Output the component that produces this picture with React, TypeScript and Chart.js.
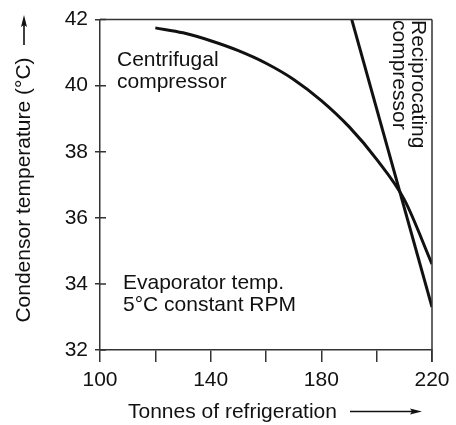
import React, { useEffect, useRef } from "react";
import { Chart, registerables } from "chart.js";

Chart.register(...registerables);

// Data
const centrifugalX = [120, 130, 140, 150, 160, 170, 180, 190, 200, 210, 220];
const centrifugalY = [41.75, 41.6, 41.36, 41.06, 40.68, 40.19, 39.55, 38.76, 37.77, 36.55, 34.6];
const reciprocatingX = [191, 220];
const reciprocatingY = [42, 33.3];

const xTickLabels = [100, 140, 180, 220];
const yTicks = [32, 34, 36, 38, 40, 42];

const xTitle = "Tonnes of refrigeration";
const yTitle = "Condensor temperature (°C)";
const centrifugalLabel = ["Centrifugal", "compressor"];
const reciprocatingLabel = ["Reciprocating", "compressor"];
const noteLabel = ["Evaporator temp.", "5°C constant RPM"];

const FONT = '"Liberation Sans", Arial, Helvetica, sans-serif';
const INK = "#111";
const AXIS = "#333";

const decorPlugin = {
  id: "decor",
  afterDraw(chart: any) {
    const { ctx, chartArea } = chart;
    const ys = chart.scales.y;
    ctx.save();
    // frame top/right
    ctx.strokeStyle = AXIS;
    ctx.lineWidth = 1.5;
    ctx.beginPath();
    ctx.moveTo(chartArea.left, chartArea.top);
    ctx.lineTo(chartArea.right, chartArea.top);
    ctx.moveTo(chartArea.right, chartArea.top);
    ctx.lineTo(chartArea.right, chartArea.bottom + 12);
    ctx.stroke();
    // inward y ticks
    ctx.beginPath();
    yTicks.forEach((v) => {
      const py = ys.getPixelForValue(v);
      ctx.moveTo(chartArea.left, py);
      ctx.lineTo(chartArea.left + 6, py);
    });
    ctx.stroke();

    ctx.fillStyle = INK;
    ctx.font = `21px ${FONT}`;
    ctx.textBaseline = "alphabetic";
    ctx.textAlign = "left";
    // annotations
    ctx.fillText(centrifugalLabel[0], 117, 66);
    ctx.fillText(centrifugalLabel[1], 117, 88);
    ctx.fillText(noteLabel[0], 123, 289);
    ctx.fillText(noteLabel[1], 123, 311);
    // x title
    ctx.fillText(xTitle, 128, 418);
    // y title
    ctx.save();
    ctx.translate(30, 190);
    ctx.rotate(-Math.PI / 2);
    ctx.textAlign = "center";
    ctx.fillText(yTitle, 0, 0);
    ctx.restore();
    // reciprocating label rotated clockwise
    ctx.save();
    ctx.translate(412, 20);
    ctx.rotate(Math.PI / 2);
    ctx.textAlign = "left";
    ctx.fillText(reciprocatingLabel[0], 0, 0);
    ctx.fillText(reciprocatingLabel[1], 0, 19);
    ctx.restore();

    // arrows
    ctx.strokeStyle = INK;
    ctx.lineWidth = 1.6;
    ctx.beginPath();
    ctx.moveTo(24, 45);
    ctx.lineTo(24, 22);
    ctx.moveTo(350, 411.5);
    ctx.lineTo(415, 411.5);
    ctx.stroke();
    ctx.beginPath();
    ctx.moveTo(24, 15);
    ctx.lineTo(21, 27);
    ctx.lineTo(24, 25);
    ctx.lineTo(27, 27);
    ctx.closePath();
    ctx.fill();
    ctx.beginPath();
    ctx.moveTo(422, 411.5);
    ctx.lineTo(410, 408.5);
    ctx.lineTo(412, 411.5);
    ctx.lineTo(410, 414.5);
    ctx.closePath();
    ctx.fill();
    ctx.restore();
  },
};

export default function App() {
  const ref = useRef<HTMLCanvasElement | null>(null);
  useEffect(() => {
    if (!ref.current) return;
    Chart.defaults.font.family = FONT;
    const chart = new Chart(ref.current, {
      type: "line",
      data: {
        datasets: [
          {
            label: "Centrifugal compressor",
            data: centrifugalX.map((x, i) => ({ x, y: centrifugalY[i] })),
            borderColor: INK,
            borderWidth: 3,
            pointRadius: 0,
            cubicInterpolationMode: "monotone",
            fill: false,
          },
          {
            label: "Reciprocating compressor",
            data: reciprocatingX.map((x, i) => ({ x, y: reciprocatingY[i] })),
            borderColor: INK,
            borderWidth: 3,
            pointRadius: 0,
            fill: false,
          },
        ],
      },
      options: {
        responsive: false,
        animation: false,
        layout: { padding: { top: 14, right: 24, left: 0, bottom: 0 } },
        plugins: { legend: { display: false }, tooltip: { enabled: false } },
        scales: {
          x: {
            type: "linear",
            min: 100,
            max: 220,
            afterFit: (s: any) => {
              s.height = 75;
            },
            ticks: {
              stepSize: 20,
              autoSkip: false,
              maxRotation: 0,
              color: INK,
              font: { size: 21 },
              padding: 6,
              callback: (v: any) => (xTickLabels.includes(Number(v)) ? String(v) : ""),
            },
            grid: { drawOnChartArea: false, tickLength: 12, color: AXIS, lineWidth: 1.5 },
            border: { color: AXIS, width: 1.5 },
          },
          y: {
            type: "linear",
            min: 32,
            max: 42,
            afterFit: (s: any) => {
              s.width = 100;
            },
            ticks: {
              stepSize: 2,
              color: INK,
              font: { size: 21 },
              padding: 7,
            },
            grid: { drawOnChartArea: false, tickLength: 5, color: AXIS, lineWidth: 1.5 },
            border: { color: AXIS, width: 1.5 },
          },
        },
      },
      plugins: [decorPlugin],
    } as any);
    return () => chart.destroy();
  }, []);
  return (
    <div style={{ position: "absolute", left: 0, top: 0, width: 456, height: 425, background: "#fff" }}>
      <canvas ref={ref} width={456} height={425} style={{ display: "block" }} />
    </div>
  );
}
